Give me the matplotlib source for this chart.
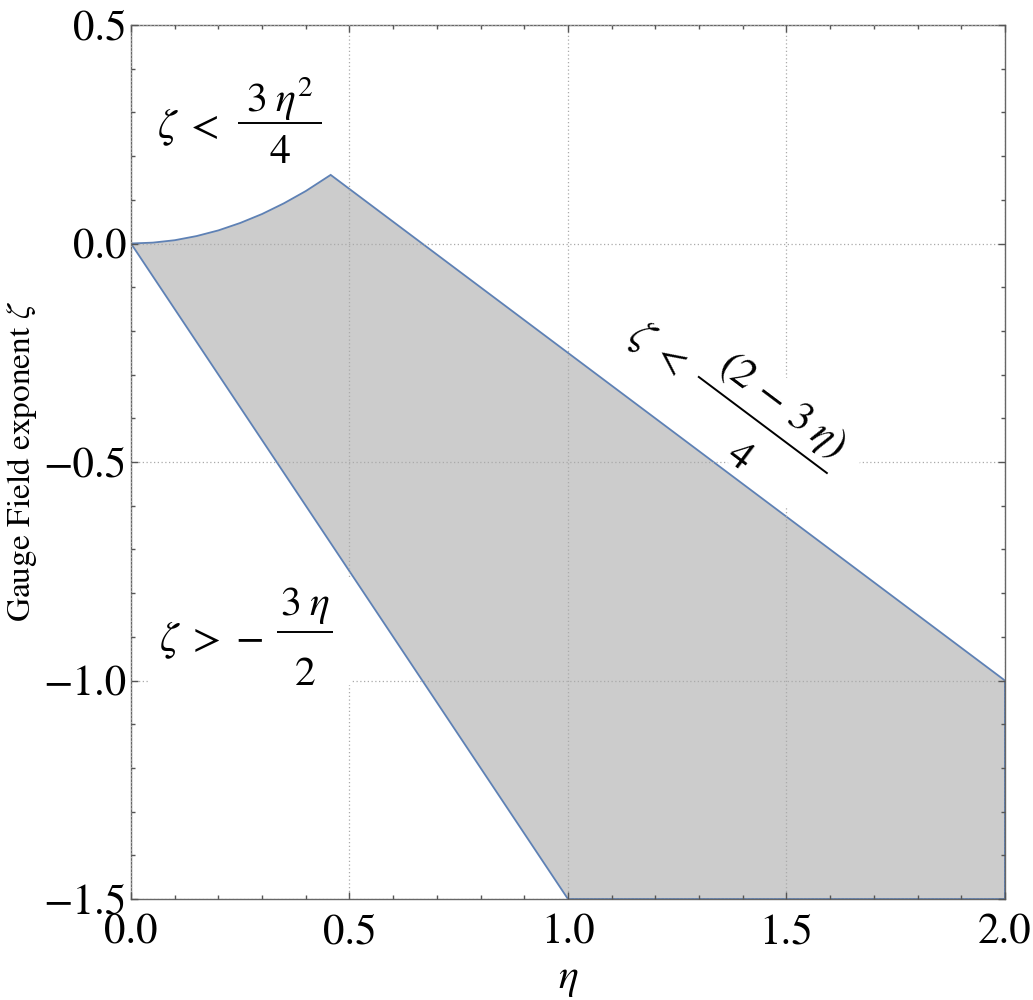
import math
import matplotlib
matplotlib.use("Agg")
import matplotlib.pyplot as plt
from matplotlib.patches import Rectangle
from matplotlib.ticker import MultipleLocator, FuncFormatter

plt.rcParams["font.family"] = ["STIXGeneral", "DejaVu Serif"]
plt.rcParams["mathtext.fontset"] = "stix"

# allowed region boundary
# upper edge, curved part zeta < 3 eta^2 / 4
eta_curve = [0.0, 0.05, 0.1, 0.15, 0.2, 0.25, 0.3, 0.35, 0.4, 0.457]
zeta_curve = [0.0, 0.002, 0.0075, 0.017, 0.03, 0.047, 0.0675, 0.092, 0.12, 0.157]
# remaining corners: straight upper edge, right edge, bottom, lower edge
eta_corners = [2.0, 2.0, 1.0, 0.0]
zeta_corners = [-1.0, -1.5, -1.5, 0.0]

xlim = (0, 2)
ylim = (-1.5, 0.5)

fig = plt.figure(figsize=(10.33, 10), dpi=100)
ax = fig.add_axes([0.1268, 0.101, 0.846, 0.874])

ax.fill(eta_curve + eta_corners, zeta_curve + zeta_corners,
        facecolor="#cccccc", edgecolor="#5e81b5", linewidth=1.3, zorder=1)

ax.set_xlim(*xlim)
ax.set_ylim(*ylim)

ax.xaxis.set_major_locator(MultipleLocator(0.5))
ax.xaxis.set_minor_locator(MultipleLocator(0.1))
ax.yaxis.set_major_locator(MultipleLocator(0.5))
ax.yaxis.set_minor_locator(MultipleLocator(0.1))
fmt = FuncFormatter(lambda v, p: f"{v:.1f}".replace("-", "\u2212"))
ax.xaxis.set_major_formatter(fmt)
ax.yaxis.set_major_formatter(fmt)

ax.tick_params(which="both", direction="in", top=True, right=True,
               color="#555555", width=1.0, labelsize=31)
ax.tick_params(which="major", length=5, pad=3)
ax.tick_params(which="minor", length=3)
ax.tick_params(axis="x", which="major", pad=11)
for s in ax.spines.values():
    s.set_color("#666666")
    s.set_linewidth(1.0)

ax.set_axisbelow(False)
ax.grid(True, which="major", color="#aaaaaa", linestyle=(0, (1, 2)), linewidth=0.9)

ax.set_xlabel(r"$\eta$", fontsize=30, labelpad=6)
ax.set_ylabel(r"Gauge Field exponent $\zeta$", fontsize=24, labelpad=3)


def frac_label(cx, cy, lhs, num, den, half_w, lhs_at, num_at, den_at, box, angle=0):
    # fraction label built from pieces; offsets given in pixels around the bar centre
    k = (xlim[1] - xlim[0]) / ax.bbox.width
    c, s = math.cos(math.radians(angle)), math.sin(math.radians(angle))

    def at(a, p):
        return cx + k * (a * c - p * s), cy + k * (a * s + p * c)

    x0, y0 = at(box[0], box[2])
    ax.add_patch(Rectangle((x0, y0), k * (box[1] - box[0]), k * (box[3] - box[2]),
                           angle=angle, facecolor="white", edgecolor="none", zorder=2.6))
    p1, p2 = at(-half_w, 0), at(half_w, 0)
    ax.plot([p1[0], p2[0]], [p1[1], p2[1]], color="black", lw=1.4,
            solid_capstyle="butt", zorder=4)
    kw = dict(fontsize=30, rotation=angle, rotation_mode="anchor", zorder=4)
    ax.text(*at(*lhs_at), lhs, ha="right", va="center", **kw)
    ax.text(*at(*num_at), num, ha="center", va="baseline", **kw)
    ax.text(*at(*den_at), den, ha="center", va="top", **kw)


frac_label(0.341, 0.2757, r"$\zeta\;<$", r"$3\;\eta^2$", r"$4$", 42,
           (-62, -4), (0, 11), (0, -12), (-135, 45, -50, 50))
frac_label(0.398, -0.889, r"$\zeta\;>\;{-}$", r"$3\;\eta$", r"$2$", 28,
           (-42, -8), (0, 17), (0, -25), (-155, 47, -53, 55))
frac_label(1.446, -0.4153, r"$\zeta\;<$", r"$(2\,-\,3\;\eta)$", r"$4$", 81,
           (-100, -3), (3, 17), (0, -21), (-175, 100, -51, 52), angle=-36.87)

fig.savefig("out.png", dpi=100)
